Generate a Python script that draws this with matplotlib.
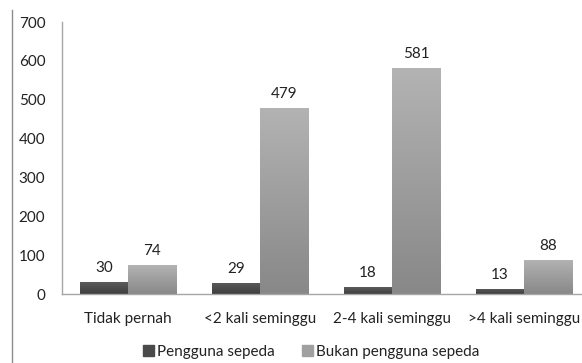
import numpy as np
import matplotlib
matplotlib.use("Agg")
import matplotlib.pyplot as plt
from matplotlib.lines import Line2D
from matplotlib.colors import LinearSegmentedColormap

categories = ["Tidak pernah", "<2 kali seminggu", "2-4 kali seminggu", ">4 kali seminggu"]
pengguna = [30, 29, 18, 13]
bukan_pengguna = [74, 479, 581, 88]
series_names = ["Pengguna sepeda", "Bukan pengguna sepeda"]

plt.rcParams["font.family"] = ["Lato", "DejaVu Sans"]

W, H = 582, 363
fig = plt.figure(figsize=(W / 100, H / 100), dpi=100)
# plot area runs past the right edge, as in the original export
ax = fig.add_axes([62 / W, (H - 294) / H, 528 / W, (294 - 22) / H])

x = np.arange(len(categories))
width = 0.365
fs = 11


def gradient_bars(xpos, values, top_color, bottom_color):
    cmap = LinearSegmentedColormap.from_list("g", [bottom_color, top_color])
    bars = ax.bar(xpos, values, width, color=top_color, edgecolor="none")
    grad = np.linspace(0, 1, 256).reshape(-1, 1)
    for b in bars:
        x0, y0 = b.get_x(), b.get_y()
        im = ax.imshow(grad, cmap=cmap, origin="lower", aspect="auto",
                       extent=[x0, x0 + b.get_width(), y0, y0 + b.get_height()],
                       zorder=2)
        im.set_clip_path(b)
    return bars


gradient_bars(x - width / 2, pengguna, "#5c5c5c", "#3e3e3e")
gradient_bars(x + width / 2, bukan_pengguna, "#b3b3b3", "#888888")

for xi, v in zip(x - width / 2, pengguna):
    ax.text(xi, v + 18, str(v), ha="center", va="bottom", fontsize=fs, color="#222222")
for xi, v in zip(x + width / 2, bukan_pengguna):
    ax.text(xi, v + 18, str(v), ha="center", va="bottom", fontsize=fs, color="#222222")

ax.set_xlim(-0.5, 3.5)
ax.set_ylim(0, 700)
ax.set_yticks(range(0, 701, 100))
ax.set_xticks(x)
ax.set_xticklabels(categories)
ax.tick_params(axis="both", length=0, labelsize=fs, colors="#222222")
ax.tick_params(axis="y", pad=12)
ax.tick_params(axis="x", pad=13)
for s in ["top", "right"]:
    ax.spines[s].set_visible(False)
for s in ["left", "bottom"]:
    ax.spines[s].set_color("#a6a6a6")
    ax.spines[s].set_linewidth(1)

handles = [plt.Rectangle((0, 0), 1, 1, color="#4a4a4a"),
           plt.Rectangle((0, 0), 1, 1, color="#a0a0a0")]
fig.legend(handles, series_names, loc="center", ncol=2, frameon=False,
           bbox_to_anchor=(311 / W, 1 - 352 / H), fontsize=fs,
           handlelength=0.7, handleheight=0.7, handletextpad=0.2, columnspacing=1.8,
           labelcolor="#222222")

fig.add_artist(Line2D([12 / W, 12 / W], [0, 1 - 10 / H], transform=fig.transFigure,
                      color="#8c8c8c", linewidth=1))

fig.savefig("out.png", dpi=100)
